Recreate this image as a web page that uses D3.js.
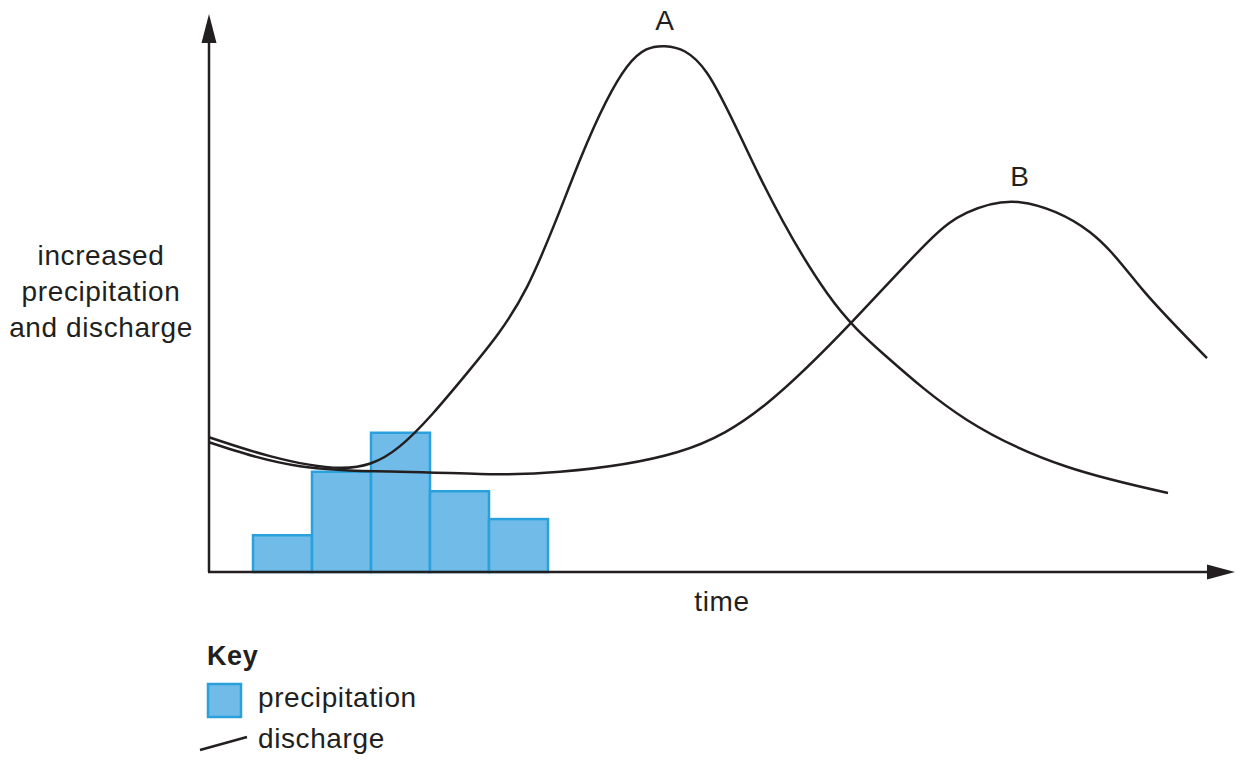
<!DOCTYPE html>
<html>
<head>
<meta charset="utf-8">
<title>precipitation and discharge</title>
<script src="https://cdn.jsdelivr.net/npm/d3@7"></script>
<style>
  body { margin: 0; background: #fff; }
  text { font-family: "Liberation Sans", Arial, Helvetica, sans-serif; fill: #231f20; letter-spacing: 0.6px; }
</style>
</head>
<body>
<svg id="mainsvg" width="1240" height="760"></svg>
<script>
// time units along x (0..100), relative amount along y (0..100)
const barStart = [4.29, 10.04, 15.79, 21.54, 27.29];
const barWidth = 5.75;
const precipitation = [6.6, 18.0, 25.0, 14.5, 9.5];

const timeA = [0, 5.95, 12.77, 18.62, 25.15, 31.0, 36.16, 40.74, 44.44, 48.54, 53.7, 60.23, 66.08, 73.88, 83.63, 93.47];
const dischargeA = [24.2, 20.8, 18.7, 22.6, 35.7, 51.2, 74.0, 90.7, 94.4, 89.6, 70.9, 50.1, 38.6, 27.3, 18.9, 14.2];

const timeB = [0, 8.87, 18.62, 26.41, 34.21, 45.61, 54.39, 62.67, 69.98, 73.88, 79.04, 85.87, 91.03, 97.27];
const dischargeB = [23.3, 19.0, 18.0, 17.6, 18.0, 21.5, 30.3, 44.9, 59.1, 64.5, 66.4, 61.0, 50.6, 38.4];

const peakLabels = ['A', 'B'];

const svg = d3.select('#mainsvg');
const ink = '#231f20';
const x = d3.scaleLinear().domain([0, 100]).range([209, 1235]);
const y = d3.scaleLinear().domain([0, 100]).range([572, 15]);

// precipitation bars
svg.selectAll('rect.bar').data(precipitation).join('rect')
    .attr('class', 'bar')
    .attr('x', (d, i) => x(barStart[i]))
    .attr('width', x(barWidth) - x(0))
    .attr('y', d => y(d))
    .attr('height', d => y(0) - y(d))
    .attr('fill', '#70bbe8')
    .attr('stroke', '#2aa1dc')
    .attr('stroke-width', 2.5);

// discharge curves
const line = d3.line().x(d => x(d[0])).y(d => y(d[1])).curve(d3.curveNatural);
const series = [d3.zip(timeA, dischargeA), d3.zip(timeB, dischargeB)];
svg.selectAll('path.discharge').data(series).join('path')
    .attr('class', 'discharge')
    .attr('d', line)
    .attr('fill', 'none')
    .attr('stroke', ink)
    .attr('stroke-width', 2.5);

// peak labels
const peaks = series.map(s => s.reduce((a, b) => (b[1] > a[1] ? b : a)));
svg.selectAll('text.peak').data(peaks).join('text')
    .attr('class', 'peak')
    .attr('x', d => x(d[0]))
    .attr('y', d => y(d[1]) - 16)
    .attr('text-anchor', 'middle')
    .attr('font-size', 28)
    .text((d, i) => peakLabels[i]);

// axes with arrow heads
svg.append('line')
    .attr('x1', x(0)).attr('y1', y(0)).attr('x2', x(0)).attr('y2', y(100) + 25)
    .attr('stroke', ink).attr('stroke-width', 2.5);
svg.append('line')
    .attr('x1', x(0) - 1).attr('y1', y(0)).attr('x2', x(100) - 25).attr('y2', y(0))
    .attr('stroke', ink).attr('stroke-width', 2.5);
svg.append('path')
    .attr('d', `M${x(0)},${y(100) - 1}L${x(0) - 7.5},${y(100) + 28}L${x(0) + 7.5},${y(100) + 28}Z`)
    .attr('fill', ink);
svg.append('path')
    .attr('d', `M${x(100)},${y(0)}L${x(100) - 28},${y(0) - 7.5}L${x(100) - 28},${y(0) + 7.5}Z`)
    .attr('fill', ink);

// axis titles
svg.append('text')
    .attr('x', 722).attr('y', 611)
    .attr('text-anchor', 'middle').attr('font-size', 28)
    .text('time');
svg.append('text')
    .attr('text-anchor', 'middle').attr('font-size', 28)
    .selectAll('tspan').data(['increased', 'precipitation', 'and discharge']).join('tspan')
    .attr('x', 101)
    .attr('y', (d, i) => 265 + i * 36)
    .text(d => d);

// key
svg.append('text')
    .attr('x', 207).attr('y', 665)
    .attr('font-size', 27).attr('font-weight', 'bold')
    .text('Key');
svg.append('rect')
    .attr('x', 208).attr('y', 684).attr('width', 33).attr('height', 33)
    .attr('fill', '#70bbe8').attr('stroke', '#2aa1dc').attr('stroke-width', 2.5);
svg.append('text')
    .attr('x', 258).attr('y', 707)
    .attr('font-size', 28)
    .text('precipitation');
svg.append('line')
    .attr('x1', 200).attr('y1', 750).attr('x2', 247).attr('y2', 737)
    .attr('stroke', ink).attr('stroke-width', 2.5);
svg.append('text')
    .attr('x', 258).attr('y', 748)
    .attr('font-size', 28)
    .text('discharge');
</script>
</body>
</html>
